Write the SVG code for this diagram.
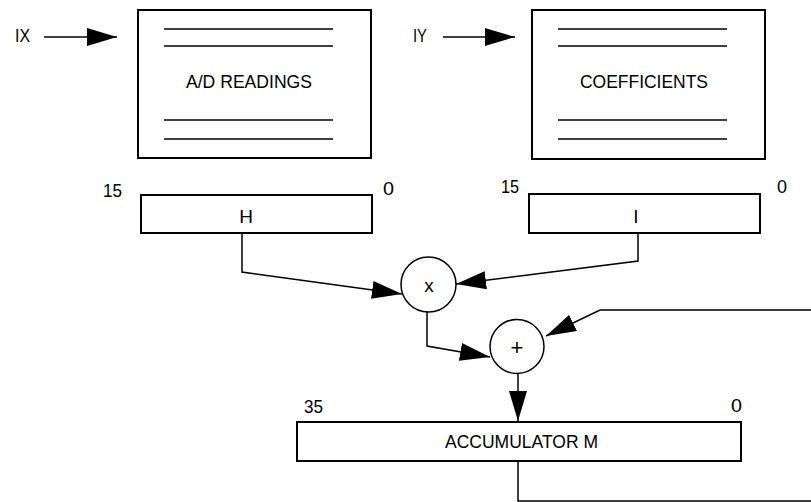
<svg xmlns="http://www.w3.org/2000/svg" width="811" height="502" viewBox="0 0 811 502">
<style>
.box{fill:#fff;stroke:#000;stroke-width:2}
.ln{stroke:#000;stroke-width:1.5;fill:none}
.t{font-family:"Liberation Sans",Arial,sans-serif;font-size:19px;fill:#000}
.m{text-anchor:middle}
.c{fill:none;stroke:#000;stroke-width:1.5;marker-end:url(#ah)}
</style>
<defs>
<marker id="ah" markerUnits="userSpaceOnUse" markerWidth="30" markerHeight="18" refX="30" refY="9" orient="auto" viewBox="0 0 30 18">
<path d="M0,0 L30,9 L0,18 z" fill="#000"/>
</marker>
</defs>
<g id="ad-readings">
<rect class="box" x="138" y="10" width="233" height="148"/>
<line class="ln" x1="164" y1="29" x2="333" y2="29"/>
<line class="ln" x1="164" y1="46" x2="333" y2="46"/>
<line class="ln" x1="164" y1="120" x2="333" y2="120"/>
<line class="ln" x1="164" y1="139" x2="333" y2="139"/>
<text class="t" x="186" y="88" textLength="126" lengthAdjust="spacingAndGlyphs">A/D READINGS</text>
</g>
<g id="coefficients">
<rect class="box" x="532" y="10" width="233" height="149"/>
<line class="ln" x1="558" y1="29" x2="727" y2="29"/>
<line class="ln" x1="558" y1="46" x2="727" y2="46"/>
<line class="ln" x1="558" y1="120" x2="727" y2="120"/>
<line class="ln" x1="558" y1="139" x2="727" y2="139"/>
<text class="t" x="580" y="88" textLength="128" lengthAdjust="spacingAndGlyphs">COEFFICIENTS</text>
</g>
<g id="ix-label"><text class="t" x="15" y="42" textLength="15" lengthAdjust="spacingAndGlyphs">IX</text></g>
<g id="iy-label"><text class="t" x="413" y="42" textLength="14" lengthAdjust="spacingAndGlyphs">IY</text></g>
<g id="reg-h">
<rect class="box" x="141" y="195" width="231" height="38"/>
<text class="t m" x="246" y="223">H</text>
<text class="t" x="103" y="197" textLength="19" lengthAdjust="spacingAndGlyphs">15</text>
<text class="t" x="383" y="195" textLength="11" lengthAdjust="spacingAndGlyphs">0</text>
</g>
<g id="reg-i">
<rect class="box" x="529" y="194" width="231" height="39"/>
<text class="t m" x="636" y="223">I</text>
<text class="t" x="501" y="193" textLength="18" lengthAdjust="spacingAndGlyphs">15</text>
<text class="t" x="777" y="193" textLength="10" lengthAdjust="spacingAndGlyphs">0</text>
</g>
<g id="mult">
<circle cx="428.5" cy="284.5" r="27.5" fill="#fff" stroke="#000" stroke-width="1.5"/>
<text class="t m" x="429" y="292">x</text>
</g>
<g id="add">
<circle cx="517" cy="346.5" r="27" fill="#fff" stroke="#000" stroke-width="1.5"/>
<text class="t m" x="517" y="355" style="font-size:22px">+</text>
</g>
<g id="accumulator">
<rect class="box" x="297" y="422" width="444" height="39"/>
<text class="t" x="445" y="448" textLength="153" lengthAdjust="spacingAndGlyphs">ACCUMULATOR M</text>
<text class="t" x="304" y="413" textLength="19" lengthAdjust="spacingAndGlyphs">35</text>
<text class="t" x="731" y="412" textLength="11" lengthAdjust="spacingAndGlyphs">0</text>
</g>
<g id="connectors">
<path class="c" d="M44,37 H117"/>
<path class="c" d="M443,37 H515"/>
<path class="c" d="M242,233 V272 L402,294"/>
<path class="c" d="M638,233 V261 L456,284"/>
<path class="c" d="M427,312 V346 L490,357"/>
<path class="c" d="M811,310 H600 L546,336"/>
<path class="c" d="M518,374 V421"/>
<path class="ln" d="M518,461 V501 H811"/>
</g>
</svg>
